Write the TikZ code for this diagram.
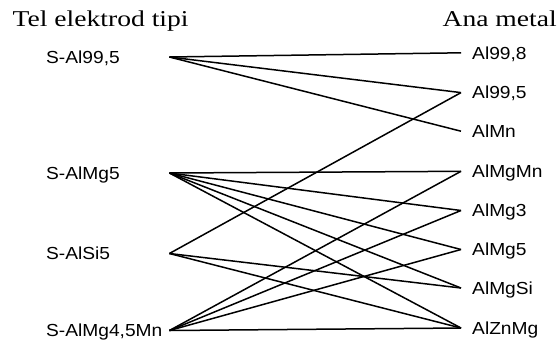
\documentclass[tikz,border=0pt]{standalone}
\usepackage{fontspec}
\setmainfont{Liberation Serif}[FakeStretch=1.22]
\newfontfamily\labelfont{Liberation Sans}[FakeStretch=1.1]
\begin{document}
\begin{tikzpicture}[x=1bp, y=-1bp,
    alloy/.style={font=\labelfont\fontsize{17.5}{18}\selectfont, text height=12.5bp, text depth=0pt},
    wire/.style={anchor=west, alloy, inner xsep=1bp, text width=122bp, align=left},
    base/.style={anchor=west, alloy, inner xsep=11bp},
    link/.style={line width=1.5bp, black}]
    \useasboundingbox (0,0) rectangle (560,340);

    % Column headers
    \node[anchor=base west, inner sep=0pt, font=\fontsize{22.7}{24}\selectfont] (hwire) at (12.5,26.7) {Tel elektrod tipi};
    \node[anchor=base east, inner sep=0pt, font=\fontsize{22.7}{24}\selectfont] (hbase) at (557,26.7) {Ana metal};

    % Filler wire types (left)
    \node[wire] (s995) at (45,57) {S-Al99,5};
    \node[wire] (smg5) at (45,173) {S-AlMg5};
    \node[wire] (ssi5) at (45,253.5) {S-AlSi5};
    \node[wire] (smg45) at (45,330.5) {S-AlMg4,5Mn};

    % Base metals (right)
    \node[base] (a998) at (461,52.8) {Al99,8};
    \node[base] (a995) at (461,92.6) {Al99,5};
    \node[base] (amn) at (461,131.2) {AlMn};
    \node[base] (amgmn) at (461,171.3) {AlMgMn};
    \node[base] (amg3) at (461,210.5) {AlMg3};
    \node[base] (amg5) at (461,249.5) {AlMg5};
    \node[base] (amgsi) at (461,288) {AlMgSi};
    \node[base] (aznmg) at (461,328) {AlZnMg};

    % S-Al99,5
    \draw[link] (s995.east) -- (a998.west);
    \draw[link] (s995.east) -- (a995.west);
    \draw[link] (s995.east) -- (amn.west);

    % S-AlMg5
    \draw[link] (smg5.east) -- (amgmn.west);
    \draw[link] (smg5.east) -- (amg3.west);
    \draw[link] (smg5.east) -- (amg5.west);
    \draw[link] (smg5.east) -- (amgsi.west);
    \draw[link] (smg5.east) -- (aznmg.west);

    % S-AlSi5
    \draw[link] (ssi5.east) -- (a995.west);
    \draw[link] (ssi5.east) -- (amgsi.west);
    \draw[link] (ssi5.east) -- (aznmg.west);

    % S-AlMg4,5Mn
    \draw[link] (smg45.east) -- (amgmn.west);
    \draw[link] (smg45.east) -- (amg3.west);
    \draw[link] (smg45.east) -- (amg5.west);
    \draw[link] (smg45.east) -- (aznmg.west);

\end{tikzpicture}
\end{document}
